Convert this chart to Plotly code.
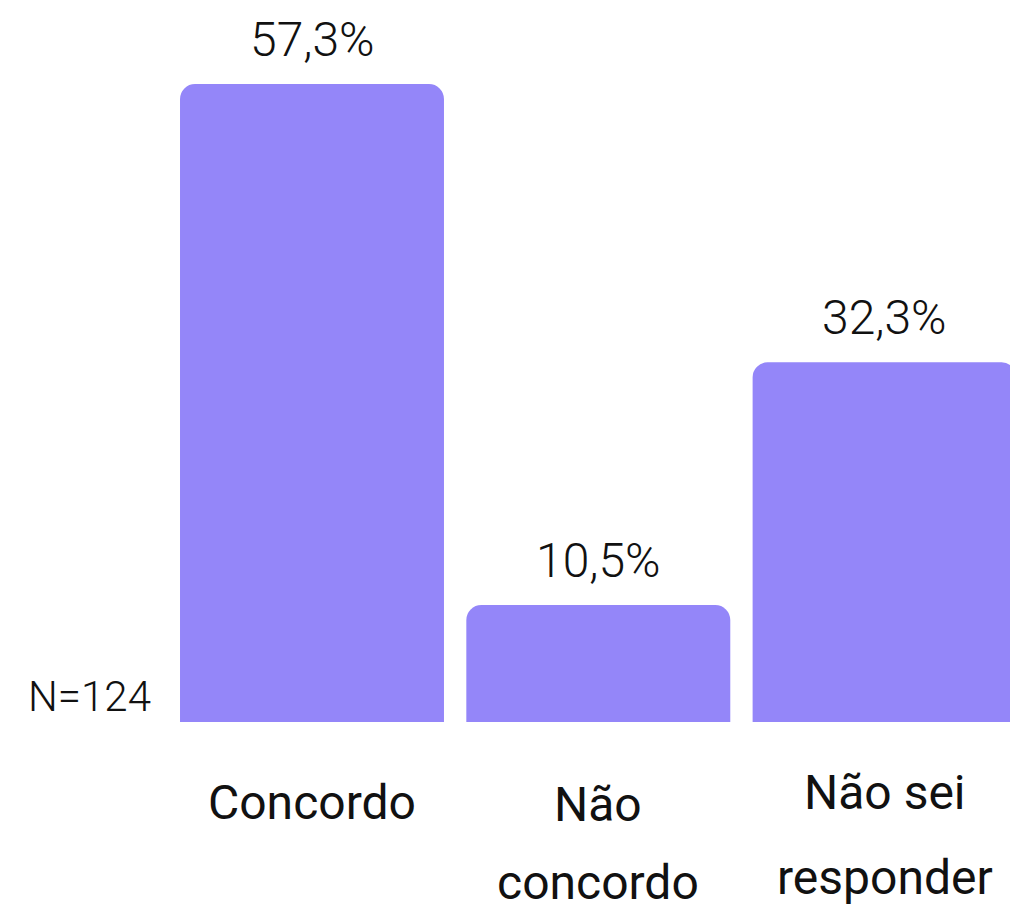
import plotly.graph_objects as go

# Survey answers and their shares (%)
categories = ["Concordo", "Não concordo", "Não sei responder"]
label_lines = [["Concordo"], ["Não", "concordo"], ["Não sei", "responder"]]
values = [57.3, 10.5, 32.3]
value_labels = ["57,3%", "10,5%", "32,3%"]
sample_note = "N=124"

BAR_COLOR = "#9486F9"
FONT = "Roboto"
FS = 48

W, H = 1010, 910
PLOT_H = 722          # plot area height in px (baseline of bars)
px_per_unit = 638 / 57.3

fig = go.Figure(
    go.Bar(
        x=list(range(len(categories))),
        y=values,
        width=0.922,
        marker=dict(color=BAR_COLOR, line=dict(width=0)),
        hovertext=categories,
    )
)

annotations = []
# value labels above bars (light weight)
for i, (v, t) in enumerate(zip(values, value_labels)):
    annotations.append(dict(
        x=i, y=v, xref="x", yref="y", text=t, showarrow=False,
        yanchor="middle", xanchor="center", yshift=44.5,
        font=dict(family=FONT, size=FS, color="#111111", weight=300),
    ))

# category labels under the axis (pixel centers of each text line)
line_centers = [[802], [804.5, 882], [792.5, 877]]
for i, (lines, centers) in enumerate(zip(label_lines, line_centers)):
    for txt, cy in zip(lines, centers):
        annotations.append(dict(
            x=i, y=(PLOT_H - cy) / PLOT_H, xref="x", yref="paper",
            text=txt, showarrow=False, yanchor="middle", xanchor="center",
            font=dict(family=FONT, size=FS, color="#111111", weight=400),
        ))

# sample size note
annotations.append(dict(
    x=89 / W, y=(PLOT_H - 696.5) / PLOT_H, xref="paper", yref="paper",
    text=sample_note, showarrow=False, yanchor="middle", xanchor="center",
    font=dict(family=FONT, size=42, color="#111111", weight=300),
))

x0 = (0 - 312) / 286.3
x1 = (W - 312) / 286.3

fig.update_layout(
    width=W, height=H,
    margin=dict(l=0, r=0, t=0, b=H - PLOT_H, pad=0),
    paper_bgcolor="white", plot_bgcolor="white",
    barcornerradius=15,
    showlegend=False,
    xaxis=dict(range=[x0, x1], visible=False, fixedrange=True),
    yaxis=dict(range=[0, PLOT_H / px_per_unit], visible=False, fixedrange=True),
    annotations=annotations,
)

fig.write_html("out.html")
